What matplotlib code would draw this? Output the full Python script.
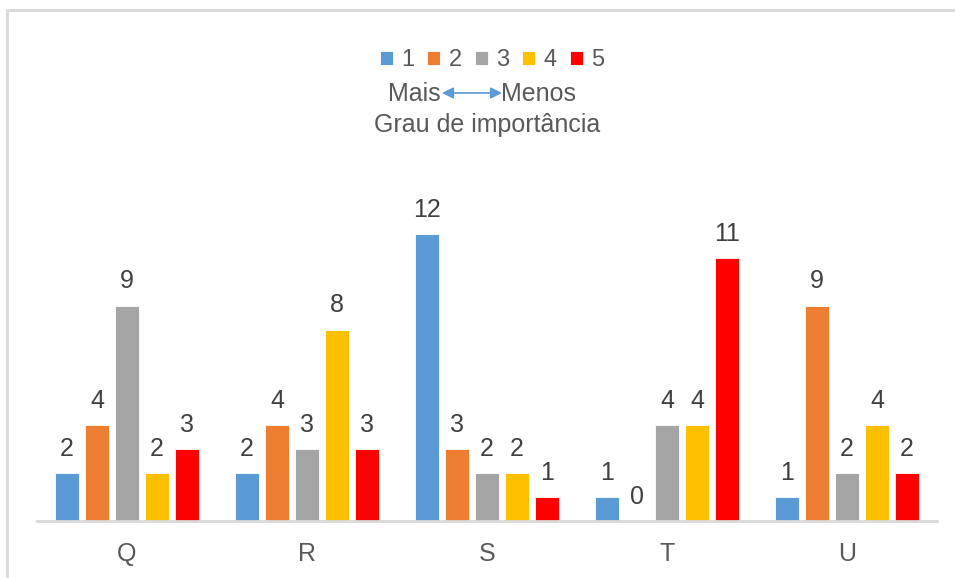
import numpy as np
import matplotlib
matplotlib.use("Agg")
import matplotlib.pyplot as plt
from matplotlib.patches import Rectangle

plt.rcParams['font.family'] = ['Liberation Sans', 'DejaVu Sans']

categories = ['Q', 'R', 'S', 'T', 'U']
series_names = ['1', '2', '3', '4', '5']
values = {
    '1': [2, 2, 12, 1, 1],
    '2': [4, 4, 3, 0, 9],
    '3': [9, 3, 2, 4, 2],
    '4': [2, 8, 2, 4, 4],
    '5': [3, 3, 1, 11, 2],
}
colors = ['#5b9bd5', '#ed7d31', '#a5a5a5', '#ffc000', '#ff0000']

fig = plt.figure(figsize=(9.55, 5.78), dpi=100)
ax = fig.add_axes([37 / 955, 57 / 578, 900 / 955, 335 / 578])

x = np.arange(len(categories))
step = 30 / 180
width = 24.5 / 180
for i, name in enumerate(series_names):
    pos = x + (i - 2) * step
    ax.bar(pos, values[name], width, color=colors[i], label=name,
           edgecolor='white', linewidth=0.6)
    for xp, v in zip(pos, values[name]):
        ax.text(xp, v + 0.72, str(v), ha='center', va='baseline',
                fontsize=18, color='#404040')

ax.set_xlim(-0.5, 4.5)
ax.set_ylim(0, 14)
ax.set_xticks(x)
ax.set_xticklabels(categories, fontsize=18, color='#595959')
ax.tick_params(axis='x', length=0, pad=15)
ax.set_yticks([])
for s in ['top', 'right', 'left']:
    ax.spines[s].set_visible(False)
ax.spines['bottom'].set_color('#d9d9d9')
ax.spines['bottom'].set_linewidth(2)

# legend
leg = fig.legend(loc='center', bbox_to_anchor=(492 / 955, 1 - 60 / 578), ncol=5,
                 frameon=False, fontsize=17, handlelength=0.55, handleheight=0.55,
                 handletextpad=0.35, columnspacing=0.55, labelcolor='#595959')

# importance annotation
fig.text(441 / 955, 1 - 94 / 578, 'Mais', ha='right', va='center',
         fontsize=18, color='#595959')
fig.text(501 / 955, 1 - 94 / 578, 'Menos', ha='left', va='center',
         fontsize=18, color='#595959')
ax.annotate('', xy=(502 / 955, 1 - 93 / 578), xytext=(442 / 955, 1 - 93 / 578),
            xycoords='figure fraction', textcoords='figure fraction',
            arrowprops=dict(arrowstyle='<|-|>', color='#5b9bd5', lw=1.2,
                            mutation_scale=17, shrinkA=0, shrinkB=0))
fig.text(487 / 955, 1 - 125 / 578, 'Grau de importância', ha='center', va='center',
         fontsize=18, color='#595959')

# chart border
fig.patches.append(Rectangle((7 / 955, -0.05), 1.1, 1 - 10 / 578 + 0.05,
                             transform=fig.transFigure, fill=False,
                             edgecolor='#d9d9d9', linewidth=2))

fig.savefig('out.png', dpi=100)
